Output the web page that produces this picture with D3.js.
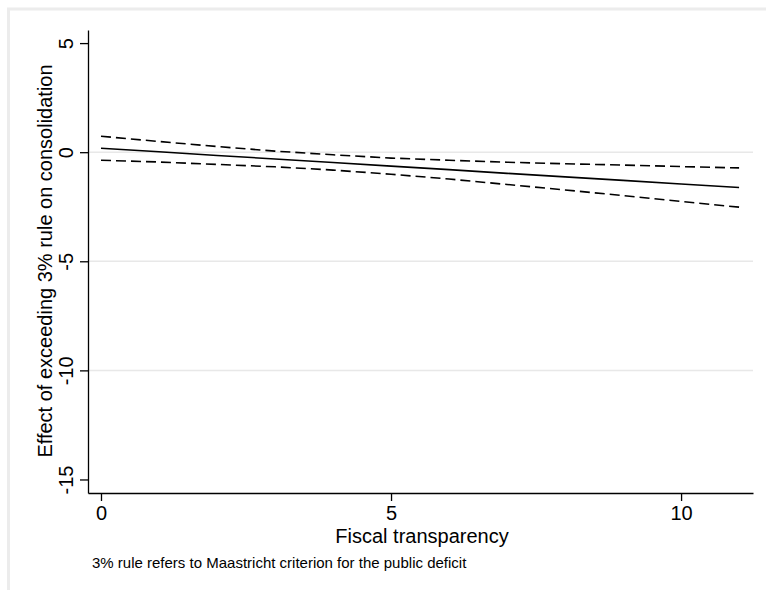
<!DOCTYPE html>
<html>
<head>
<meta charset="utf-8">
<script src="https://cdn.jsdelivr.net/npm/d3@7"></script>
<style>
  body { margin: 0; background: #fff; }
  text { font-family: "Liberation Sans", Arial, Helvetica, sans-serif; fill: #000; }
</style>
</head>
<body>
<div id="chart"></div>
<script>
// Data
let transparency = [0, 1, 2, 3, 4, 5, 6, 7, 8, 9, 10, 11];
let effect = [0.18, 0.02, -0.15, -0.31, -0.47, -0.64, -0.80, -0.97, -1.13, -1.29, -1.46, -1.62];
let upper = [0.73, 0.49, 0.26, 0.05, -0.12, -0.27, -0.37, -0.46, -0.53, -0.59, -0.66, -0.72];
let lower = [-0.37, -0.45, -0.56, -0.67, -0.82, -1.01, -1.23, -1.48, -1.73, -1.99, -2.26, -2.52];
let xTicks = [0, 5, 10];
let yTicks = [5, 0, -5, -10, -15];
let gridTicks = [0, -5, -10];

let width = 766;
let height = 590;

let svg = d3.select('#chart')
	.append('svg')
	.attr('width', width)
	.attr('height', height);

// outer frame (light gray)
svg.append('rect')
	.attr('x', 8.5)
	.attr('y', 9)
	.attr('width', width + 20)
	.attr('height', height + 20)
	.attr('fill', 'none')
	.attr('stroke', '#ececec')
	.attr('stroke-width', 3);

let x = d3.scaleLinear().domain([-0.224, 11.24]).range([88, 753]);
let y = d3.scaleLinear().domain([-15.62, 5.6]).range([493, 30]);

// gridlines
svg.selectAll('.grid')
	.data(gridTicks)
	.enter()
	.append('line')
	.attr('class', 'grid')
	.attr('x1', 88)
	.attr('x2', 753)
	.attr('y1', d => y(d))
	.attr('y2', d => y(d))
	.attr('stroke', '#e8e8e8')
	.attr('stroke-width', 1.5);

// axes
let yAxis = svg.append('g')
	.attr('transform', 'translate(88,0)')
	.call(d3.axisLeft(y).tickValues(yTicks).tickSize(8).tickSizeOuter(0).tickFormat(d => String(d)));

let xAxis = svg.append('g')
	.attr('transform', 'translate(0,493)')
	.call(d3.axisBottom(x).tickValues(xTicks).tickSize(8).tickSizeOuter(0).tickFormat(d => String(d)));

[xAxis, yAxis].forEach(function(a){
	a.select('.domain').attr('stroke', '#000').attr('stroke-width', 1.3);
	a.selectAll('.tick line').attr('stroke', '#000').attr('stroke-width', 1.3);
	a.selectAll('.tick text').attr('font-size', 20).attr('fill', '#000')
	 .style('font-family', '"Liberation Sans", Arial, sans-serif');
});

xAxis.selectAll('.tick text').attr('y', 13);

yAxis.selectAll('.tick text')
	.attr('x', 0)
	.attr('dy', 0)
	.attr('text-anchor', 'middle')
	.attr('transform', 'translate(-15,0) rotate(-90)');

// lines
let line = function(vals){
	return d3.line()
		.x((d, i) => x(transparency[i]))
		.y(d => y(d))(vals);
};

svg.append('path')
	.attr('d', line(effect))
	.attr('fill', 'none')
	.attr('stroke', '#000')
	.attr('stroke-width', 1.6);

[upper, lower].forEach(function(vals){
	svg.append('path')
		.attr('d', line(vals))
		.attr('fill', 'none')
		.attr('stroke', '#000')
		.attr('stroke-width', 1.6)
		.attr('stroke-dasharray', '10,5');
});

// titles
svg.append('text')
	.attr('transform', 'translate(52,261) rotate(-90)')
	.attr('text-anchor', 'middle')
	.attr('font-size', 20)
	.text('Effect of exceeding 3% rule on consolidation');

svg.append('text')
	.attr('x', 422)
	.attr('y', 543)
	.attr('text-anchor', 'middle')
	.attr('font-size', 20)
	.text('Fiscal transparency');

svg.append('text')
	.attr('x', 92)
	.attr('y', 568)
	.attr('font-size', 15)
	.text('3% rule refers to Maastricht criterion for the public deficit');
</script>
</body>
</html>
